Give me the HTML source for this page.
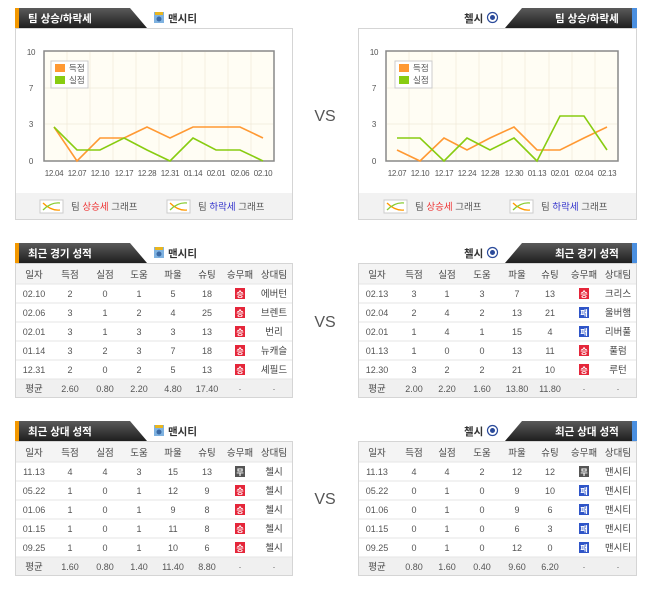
<!DOCTYPE html>
<html><head><meta charset="utf-8"><style>
html,body{margin:0;padding:0;background:#fff;}
svg{display:block;font-family:"Liberation Sans","Noto Sans CJK KR",sans-serif;}
.t{font-size:9px;fill:#555;text-anchor:middle;}
.h{font-size:9.5px;fill:#444;text-anchor:middle;}
.ax{font-size:8px;fill:#555;text-anchor:middle;letter-spacing:-0.3px;}
.tab{font-size:10.5px;font-weight:bold;fill:#fff;}
.tm{font-size:10.5px;font-weight:bold;fill:#333;}
.bw{font-size:8px;fill:#fff;text-anchor:middle;font-weight:bold;}
</style></head><body>
<svg width="650" height="589" viewBox="0 0 650 589" xmlns="http://www.w3.org/2000/svg">
<defs>
<linearGradient id="dk" x1="0" y1="0" x2="0" y2="1"><stop offset="0" stop-color="#5a5a5a"/><stop offset="1" stop-color="#1e1e1e"/></linearGradient>
<g id="lic"><rect x="0" y="0" width="23" height="13" fill="#fff" stroke="#ccc"/><path d="M3,3 Q11,11 20,10" stroke="#f90" fill="none" stroke-width="1.3"/><path d="M3,10 Q11,2 20,3" stroke="#8c3" fill="none" stroke-width="1.3"/></g>
<g id="mc"><rect x="0" y="0" width="10" height="11" fill="#7fb2e0"/><rect x="1" y="0" width="8" height="3" fill="#e8b520"/><circle cx="5" cy="7" r="2.5" fill="#3b6aa5"/></g>
<g id="ch"><circle cx="5.5" cy="5.5" r="5" fill="#fff" stroke="#2a4a9a" stroke-width="1.2"/><circle cx="5.5" cy="5.5" r="2.5" fill="#2a4a9a"/></g>
</defs>

<!-- ============ LEFT CHART PANEL ============ -->
<polygon points="15,8 130,8 147,28 15,28" fill="url(#dk)"/>
<rect x="15" y="8" width="4" height="20" fill="#f39800"/>
<text x="28" y="22" class="tab">팀 상승/하락세</text>
<use href="#mc" x="154" y="12"/>
<text x="168" y="22" class="tm">맨시티</text>
<rect x="15.5" y="28.5" width="277" height="191" fill="#fff" stroke="#d5d5d5"/>
<rect x="16" y="193" width="276" height="26" fill="#f2f2f2"/>
<rect x="44" y="51" width="230" height="110" fill="#fffdf4" stroke="#888" stroke-width="1.5"/>
<g stroke="#efe9d8" stroke-width="0.7">
<line x1="67" y1="52" x2="67" y2="160"/><line x1="90" y1="52" x2="90" y2="160"/><line x1="113" y1="52" x2="113" y2="160"/><line x1="136" y1="52" x2="136" y2="160"/><line x1="159" y1="52" x2="159" y2="160"/><line x1="182" y1="52" x2="182" y2="160"/><line x1="205" y1="52" x2="205" y2="160"/><line x1="228" y1="52" x2="228" y2="160"/><line x1="251" y1="52" x2="251" y2="160"/>
<line x1="45" y1="88" x2="273" y2="88"/><line x1="45" y1="124" x2="273" y2="124"/>
</g>
<text x="31" y="55" class="ax">10</text><text x="31" y="91" class="ax">7</text><text x="31" y="127" class="ax">3</text><text x="31" y="164" class="ax">0</text>
<rect x="51" y="61" width="37" height="27" fill="#fff" stroke="#ccc"/>
<rect x="55" y="64" width="10" height="8" fill="#f93"/><text x="69" y="71" style="font-size:8.5px;fill:#555">득점</text>
<rect x="55" y="76" width="10" height="8" fill="#8c1"/><text x="69" y="83" style="font-size:8.5px;fill:#555">실점</text>
<polyline fill="none" stroke="#f93" stroke-width="1.6" points="54,127 77,161 100,138 124,138 147,127 170,138 193,127 216,127 240,127 263,138"/>
<polyline fill="none" stroke="#8c1" stroke-width="1.6" points="54,127 77,150 100,150 124,138 147,150 170,161 193,138 216,150 240,150 263,161"/>
<text x="54" y="176" class="ax">12.04</text><text x="77" y="176" class="ax">12.07</text><text x="100" y="176" class="ax">12.10</text><text x="124" y="176" class="ax">12.17</text><text x="147" y="176" class="ax">12.28</text><text x="170" y="176" class="ax">12.31</text><text x="193" y="176" class="ax">01.14</text><text x="216" y="176" class="ax">02.01</text><text x="240" y="176" class="ax">02.06</text><text x="263" y="176" class="ax">02.10</text>
<use href="#lic" x="40" y="200"/>
<text x="71" y="210" style="font-size:9.5px;fill:#555">팀 <tspan fill="#e33">상승세</tspan> 그래프</text>
<use href="#lic" x="167" y="200"/>
<text x="198" y="210" style="font-size:9.5px;fill:#555">팀 <tspan fill="#33c">하락세</tspan> 그래프</text>

<!-- ============ RIGHT CHART PANEL ============ -->
<polygon points="522,8 637,8 637,28 505,28" fill="url(#dk)"/>
<rect x="632" y="8" width="5" height="20" fill="#4a8fe0"/>
<text x="555" y="22" class="tab">팀 상승/하락세</text>
<text x="464" y="22" class="tm">첼시</text>
<use href="#ch" x="487" y="12"/>
<rect x="358.5" y="28.5" width="278" height="191" fill="#fff" stroke="#d5d5d5"/>
<rect x="359" y="193" width="277" height="26" fill="#f2f2f2"/>
<rect x="386" y="51" width="232" height="110" fill="#fffdf4" stroke="#888" stroke-width="1.5"/>
<g stroke="#efe9d8" stroke-width="0.7">
<line x1="409" y1="52" x2="409" y2="160"/><line x1="432" y1="52" x2="432" y2="160"/><line x1="456" y1="52" x2="456" y2="160"/><line x1="479" y1="52" x2="479" y2="160"/><line x1="502" y1="52" x2="502" y2="160"/><line x1="525" y1="52" x2="525" y2="160"/><line x1="549" y1="52" x2="549" y2="160"/><line x1="572" y1="52" x2="572" y2="160"/><line x1="595" y1="52" x2="595" y2="160"/>
<line x1="387" y1="88" x2="617" y2="88"/><line x1="387" y1="124" x2="617" y2="124"/>
</g>
<text x="374" y="55" class="ax">10</text><text x="374" y="91" class="ax">7</text><text x="374" y="127" class="ax">3</text><text x="374" y="164" class="ax">0</text>
<rect x="395" y="61" width="37" height="27" fill="#fff" stroke="#ccc"/>
<rect x="399" y="64" width="10" height="8" fill="#f93"/><text x="413" y="71" style="font-size:8.5px;fill:#555">득점</text>
<rect x="399" y="76" width="10" height="8" fill="#8c1"/><text x="413" y="83" style="font-size:8.5px;fill:#555">실점</text>
<polyline fill="none" stroke="#f93" stroke-width="1.6" points="397,150 420,161 444,138 467,150 490,138 514,127 537,150 560,150 584,138 607,127"/>
<polyline fill="none" stroke="#8c1" stroke-width="1.6" points="397,138 420,138 444,161 467,138 490,150 514,138 537,161 560,116 584,116 607,150"/>
<text x="397" y="176" class="ax">12.07</text><text x="420" y="176" class="ax">12.10</text><text x="444" y="176" class="ax">12.17</text><text x="467" y="176" class="ax">12.24</text><text x="490" y="176" class="ax">12.28</text><text x="514" y="176" class="ax">12.30</text><text x="537" y="176" class="ax">01.13</text><text x="560" y="176" class="ax">02.01</text><text x="584" y="176" class="ax">02.04</text><text x="607" y="176" class="ax">02.13</text>
<use href="#lic" x="384" y="200"/>
<text x="415" y="210" style="font-size:9.5px;fill:#555">팀 <tspan fill="#e33">상승세</tspan> 그래프</text>
<use href="#lic" x="510" y="200"/>
<text x="541" y="210" style="font-size:9.5px;fill:#555">팀 <tspan fill="#33c">하락세</tspan> 그래프</text>

<text x="325" y="121" style="font-size:16px;fill:#555;text-anchor:middle">VS</text>
<text x="325" y="327" style="font-size:16px;fill:#555;text-anchor:middle">VS</text>
<text x="325" y="504" style="font-size:16px;fill:#555;text-anchor:middle">VS</text>

<!-- ============ TABLE 1 LEFT ============ -->
<polygon points="15,243 130,243 147,263 15,263" fill="url(#dk)"/>
<rect x="15" y="243" width="4" height="20" fill="#f39800"/>
<text x="28" y="257" class="tab">최근 경기 성적</text>
<use href="#mc" x="154" y="247"/><text x="168" y="257" class="tm">맨시티</text>
<g transform="translate(15,263)">
<rect x="0.5" y="0.5" width="277" height="134" fill="#fff" stroke="#d5d5d5"/>
<rect x="1" y="1" width="276" height="20" fill="#f4f4f4"/>
<rect x="1" y="116" width="276" height="18" fill="#f0f0f0"/>
<g stroke="#e6e6e6"><line x1="1" y1="21" x2="277" y2="21"/><line x1="1" y1="40" x2="277" y2="40"/><line x1="1" y1="59" x2="277" y2="59"/><line x1="1" y1="78" x2="277" y2="78"/><line x1="1" y1="97" x2="277" y2="97"/><line x1="1" y1="116" x2="277" y2="116"/></g>
<text x="19" y="15" class="h">일자</text><text x="55" y="15" class="h">득점</text><text x="90" y="15" class="h">실점</text><text x="124" y="15" class="h">도움</text><text x="158" y="15" class="h">파울</text><text x="192" y="15" class="h">슈팅</text><text x="225" y="15" class="h">승무패</text><text x="259" y="15" class="h">상대팀</text>
<text x="19" y="34" class="t">02.10</text><text x="55" y="34" class="t">2</text><text x="90" y="34" class="t">0</text><text x="124" y="34" class="t">1</text><text x="158" y="34" class="t">5</text><text x="192" y="34" class="t">18</text><rect x="220" y="25" width="10" height="11" fill="#e5263a"/><text x="225" y="34" class="bw">승</text><text x="259" y="34" class="h">에버턴</text>
<text x="19" y="53" class="t">02.06</text><text x="55" y="53" class="t">3</text><text x="90" y="53" class="t">1</text><text x="124" y="53" class="t">2</text><text x="158" y="53" class="t">4</text><text x="192" y="53" class="t">25</text><rect x="220" y="44" width="10" height="11" fill="#e5263a"/><text x="225" y="53" class="bw">승</text><text x="259" y="53" class="h">브렌트</text>
<text x="19" y="72" class="t">02.01</text><text x="55" y="72" class="t">3</text><text x="90" y="72" class="t">1</text><text x="124" y="72" class="t">3</text><text x="158" y="72" class="t">3</text><text x="192" y="72" class="t">13</text><rect x="220" y="63" width="10" height="11" fill="#e5263a"/><text x="225" y="72" class="bw">승</text><text x="259" y="72" class="h">번리</text>
<text x="19" y="91" class="t">01.14</text><text x="55" y="91" class="t">3</text><text x="90" y="91" class="t">2</text><text x="124" y="91" class="t">3</text><text x="158" y="91" class="t">7</text><text x="192" y="91" class="t">18</text><rect x="220" y="82" width="10" height="11" fill="#e5263a"/><text x="225" y="91" class="bw">승</text><text x="259" y="91" class="h">뉴캐슬</text>
<text x="19" y="110" class="t">12.31</text><text x="55" y="110" class="t">2</text><text x="90" y="110" class="t">0</text><text x="124" y="110" class="t">2</text><text x="158" y="110" class="t">5</text><text x="192" y="110" class="t">13</text><rect x="220" y="101" width="10" height="11" fill="#e5263a"/><text x="225" y="110" class="bw">승</text><text x="259" y="110" class="h">셰필드</text>
<text x="19" y="129" class="h">평균</text><text x="55" y="129" class="t">2.60</text><text x="90" y="129" class="t">0.80</text><text x="124" y="129" class="t">2.20</text><text x="158" y="129" class="t">4.80</text><text x="192" y="129" class="t">17.40</text><text x="225" y="129" class="t">·</text><text x="259" y="129" class="t">·</text>
</g>

<!-- ============ TABLE 1 RIGHT ============ -->
<polygon points="522,243 637,243 637,263 505,263" fill="url(#dk)"/>
<rect x="632" y="243" width="5" height="20" fill="#4a8fe0"/>
<text x="555" y="257" class="tab">최근 경기 성적</text>
<text x="464" y="257" class="tm">첼시</text><use href="#ch" x="487" y="247"/>
<g transform="translate(358,263)">
<rect x="0.5" y="0.5" width="278" height="134" fill="#fff" stroke="#d5d5d5"/>
<rect x="1" y="1" width="277" height="20" fill="#f4f4f4"/>
<rect x="1" y="116" width="277" height="18" fill="#f0f0f0"/>
<g stroke="#e6e6e6"><line x1="1" y1="21" x2="278" y2="21"/><line x1="1" y1="40" x2="278" y2="40"/><line x1="1" y1="59" x2="278" y2="59"/><line x1="1" y1="78" x2="278" y2="78"/><line x1="1" y1="97" x2="278" y2="97"/><line x1="1" y1="116" x2="278" y2="116"/></g>
<text x="19" y="15" class="h">일자</text><text x="56" y="15" class="h">득점</text><text x="89" y="15" class="h">실점</text><text x="124" y="15" class="h">도움</text><text x="159" y="15" class="h">파울</text><text x="192" y="15" class="h">슈팅</text><text x="226" y="15" class="h">승무패</text><text x="260" y="15" class="h">상대팀</text>
<text x="19" y="34" class="t">02.13</text><text x="56" y="34" class="t">3</text><text x="89" y="34" class="t">1</text><text x="124" y="34" class="t">3</text><text x="159" y="34" class="t">7</text><text x="192" y="34" class="t">13</text><rect x="221" y="25" width="10" height="11" fill="#e5263a"/><text x="226" y="34" class="bw">승</text><text x="260" y="34" class="h">크리스</text>
<text x="19" y="53" class="t">02.04</text><text x="56" y="53" class="t">2</text><text x="89" y="53" class="t">4</text><text x="124" y="53" class="t">2</text><text x="159" y="53" class="t">13</text><text x="192" y="53" class="t">21</text><rect x="221" y="44" width="10" height="11" fill="#2f55c8"/><text x="226" y="53" class="bw">패</text><text x="260" y="53" class="h">울버햄</text>
<text x="19" y="72" class="t">02.01</text><text x="56" y="72" class="t">1</text><text x="89" y="72" class="t">4</text><text x="124" y="72" class="t">1</text><text x="159" y="72" class="t">15</text><text x="192" y="72" class="t">4</text><rect x="221" y="63" width="10" height="11" fill="#2f55c8"/><text x="226" y="72" class="bw">패</text><text x="260" y="72" class="h">리버풀</text>
<text x="19" y="91" class="t">01.13</text><text x="56" y="91" class="t">1</text><text x="89" y="91" class="t">0</text><text x="124" y="91" class="t">0</text><text x="159" y="91" class="t">13</text><text x="192" y="91" class="t">11</text><rect x="221" y="82" width="10" height="11" fill="#e5263a"/><text x="226" y="91" class="bw">승</text><text x="260" y="91" class="h">풀럼</text>
<text x="19" y="110" class="t">12.30</text><text x="56" y="110" class="t">3</text><text x="89" y="110" class="t">2</text><text x="124" y="110" class="t">2</text><text x="159" y="110" class="t">21</text><text x="192" y="110" class="t">10</text><rect x="221" y="101" width="10" height="11" fill="#e5263a"/><text x="226" y="110" class="bw">승</text><text x="260" y="110" class="h">루턴</text>
<text x="19" y="129" class="h">평균</text><text x="56" y="129" class="t">2.00</text><text x="89" y="129" class="t">2.20</text><text x="124" y="129" class="t">1.60</text><text x="159" y="129" class="t">13.80</text><text x="192" y="129" class="t">11.80</text><text x="226" y="129" class="t">·</text><text x="260" y="129" class="t">·</text>
</g>

<!-- ============ TABLE 3 LEFT ============ -->
<polygon points="15,421 130,421 147,441 15,441" fill="url(#dk)"/>
<rect x="15" y="421" width="4" height="20" fill="#f39800"/>
<text x="28" y="435" class="tab">최근 상대 성적</text>
<use href="#mc" x="154" y="425"/><text x="168" y="435" class="tm">맨시티</text>
<g transform="translate(15,441)">
<rect x="0.5" y="0.5" width="277" height="134" fill="#fff" stroke="#d5d5d5"/>
<rect x="1" y="1" width="276" height="20" fill="#f4f4f4"/>
<rect x="1" y="116" width="276" height="18" fill="#f0f0f0"/>
<g stroke="#e6e6e6"><line x1="1" y1="21" x2="277" y2="21"/><line x1="1" y1="40" x2="277" y2="40"/><line x1="1" y1="59" x2="277" y2="59"/><line x1="1" y1="78" x2="277" y2="78"/><line x1="1" y1="97" x2="277" y2="97"/><line x1="1" y1="116" x2="277" y2="116"/></g>
<text x="19" y="15" class="h">일자</text><text x="55" y="15" class="h">득점</text><text x="90" y="15" class="h">실점</text><text x="124" y="15" class="h">도움</text><text x="158" y="15" class="h">파울</text><text x="192" y="15" class="h">슈팅</text><text x="225" y="15" class="h">승무패</text><text x="259" y="15" class="h">상대팀</text>
<text x="19" y="34" class="t">11.13</text><text x="55" y="34" class="t">4</text><text x="90" y="34" class="t">4</text><text x="124" y="34" class="t">3</text><text x="158" y="34" class="t">15</text><text x="192" y="34" class="t">13</text><rect x="220" y="25" width="10" height="11" fill="#555"/><text x="225" y="34" class="bw">무</text><text x="259" y="34" class="h">첼시</text>
<text x="19" y="53" class="t">05.22</text><text x="55" y="53" class="t">1</text><text x="90" y="53" class="t">0</text><text x="124" y="53" class="t">1</text><text x="158" y="53" class="t">12</text><text x="192" y="53" class="t">9</text><rect x="220" y="44" width="10" height="11" fill="#e5263a"/><text x="225" y="53" class="bw">승</text><text x="259" y="53" class="h">첼시</text>
<text x="19" y="72" class="t">01.06</text><text x="55" y="72" class="t">1</text><text x="90" y="72" class="t">0</text><text x="124" y="72" class="t">1</text><text x="158" y="72" class="t">9</text><text x="192" y="72" class="t">8</text><rect x="220" y="63" width="10" height="11" fill="#e5263a"/><text x="225" y="72" class="bw">승</text><text x="259" y="72" class="h">첼시</text>
<text x="19" y="91" class="t">01.15</text><text x="55" y="91" class="t">1</text><text x="90" y="91" class="t">0</text><text x="124" y="91" class="t">1</text><text x="158" y="91" class="t">11</text><text x="192" y="91" class="t">8</text><rect x="220" y="82" width="10" height="11" fill="#e5263a"/><text x="225" y="91" class="bw">승</text><text x="259" y="91" class="h">첼시</text>
<text x="19" y="110" class="t">09.25</text><text x="55" y="110" class="t">1</text><text x="90" y="110" class="t">0</text><text x="124" y="110" class="t">1</text><text x="158" y="110" class="t">10</text><text x="192" y="110" class="t">6</text><rect x="220" y="101" width="10" height="11" fill="#e5263a"/><text x="225" y="110" class="bw">승</text><text x="259" y="110" class="h">첼시</text>
<text x="19" y="129" class="h">평균</text><text x="55" y="129" class="t">1.60</text><text x="90" y="129" class="t">0.80</text><text x="124" y="129" class="t">1.40</text><text x="158" y="129" class="t">11.40</text><text x="192" y="129" class="t">8.80</text><text x="225" y="129" class="t">·</text><text x="259" y="129" class="t">·</text>
</g>

<!-- ============ TABLE 3 RIGHT ============ -->
<polygon points="522,421 637,421 637,441 505,441" fill="url(#dk)"/>
<rect x="632" y="421" width="5" height="20" fill="#4a8fe0"/>
<text x="555" y="435" class="tab">최근 상대 성적</text>
<text x="464" y="435" class="tm">첼시</text><use href="#ch" x="487" y="425"/>
<g transform="translate(358,441)">
<rect x="0.5" y="0.5" width="278" height="134" fill="#fff" stroke="#d5d5d5"/>
<rect x="1" y="1" width="277" height="20" fill="#f4f4f4"/>
<rect x="1" y="116" width="277" height="18" fill="#f0f0f0"/>
<g stroke="#e6e6e6"><line x1="1" y1="21" x2="278" y2="21"/><line x1="1" y1="40" x2="278" y2="40"/><line x1="1" y1="59" x2="278" y2="59"/><line x1="1" y1="78" x2="278" y2="78"/><line x1="1" y1="97" x2="278" y2="97"/><line x1="1" y1="116" x2="278" y2="116"/></g>
<text x="19" y="15" class="h">일자</text><text x="56" y="15" class="h">득점</text><text x="89" y="15" class="h">실점</text><text x="124" y="15" class="h">도움</text><text x="159" y="15" class="h">파울</text><text x="192" y="15" class="h">슈팅</text><text x="226" y="15" class="h">승무패</text><text x="260" y="15" class="h">상대팀</text>
<text x="19" y="34" class="t">11.13</text><text x="56" y="34" class="t">4</text><text x="89" y="34" class="t">4</text><text x="124" y="34" class="t">2</text><text x="159" y="34" class="t">12</text><text x="192" y="34" class="t">12</text><rect x="221" y="25" width="10" height="11" fill="#555"/><text x="226" y="34" class="bw">무</text><text x="260" y="34" class="h">맨시티</text>
<text x="19" y="53" class="t">05.22</text><text x="56" y="53" class="t">0</text><text x="89" y="53" class="t">1</text><text x="124" y="53" class="t">0</text><text x="159" y="53" class="t">9</text><text x="192" y="53" class="t">10</text><rect x="221" y="44" width="10" height="11" fill="#2f55c8"/><text x="226" y="53" class="bw">패</text><text x="260" y="53" class="h">맨시티</text>
<text x="19" y="72" class="t">01.06</text><text x="56" y="72" class="t">0</text><text x="89" y="72" class="t">1</text><text x="124" y="72" class="t">0</text><text x="159" y="72" class="t">9</text><text x="192" y="72" class="t">6</text><rect x="221" y="63" width="10" height="11" fill="#2f55c8"/><text x="226" y="72" class="bw">패</text><text x="260" y="72" class="h">맨시티</text>
<text x="19" y="91" class="t">01.15</text><text x="56" y="91" class="t">0</text><text x="89" y="91" class="t">1</text><text x="124" y="91" class="t">0</text><text x="159" y="91" class="t">6</text><text x="192" y="91" class="t">3</text><rect x="221" y="82" width="10" height="11" fill="#2f55c8"/><text x="226" y="91" class="bw">패</text><text x="260" y="91" class="h">맨시티</text>
<text x="19" y="110" class="t">09.25</text><text x="56" y="110" class="t">0</text><text x="89" y="110" class="t">1</text><text x="124" y="110" class="t">0</text><text x="159" y="110" class="t">12</text><text x="192" y="110" class="t">0</text><rect x="221" y="101" width="10" height="11" fill="#2f55c8"/><text x="226" y="110" class="bw">패</text><text x="260" y="110" class="h">맨시티</text>
<text x="19" y="129" class="h">평균</text><text x="56" y="129" class="t">0.80</text><text x="89" y="129" class="t">1.60</text><text x="124" y="129" class="t">0.40</text><text x="159" y="129" class="t">9.60</text><text x="192" y="129" class="t">6.20</text><text x="226" y="129" class="t">·</text><text x="260" y="129" class="t">·</text>
</g>
</svg>
</body></html>
